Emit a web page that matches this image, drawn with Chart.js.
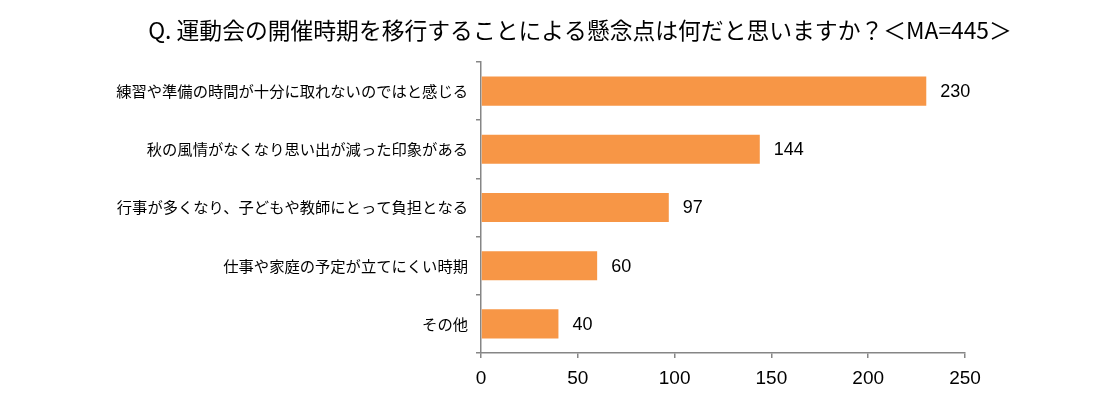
<!DOCTYPE html>
<html><head><meta charset="utf-8">
<script src="https://cdn.jsdelivr.net/npm/chart.js@4/dist/chart.umd.min.js"></script>
<style>html,body{margin:0;padding:0;background:#fff;}#wrap{width:1116px;height:397px;}</style>
</head><body><div id="wrap"><canvas id="c" width="1116" height="397"></canvas></div>
<script>
const titleText = "Q. 運動会の開催時期を移行することによる懸念点は何だと思いますか？＜MA=445＞";
const categories = ["練習や準備の時間が十分に取れないのではと感じる","秋の風情がなくなり思い出が減った印象がある","行事が多くなり、子どもや教師にとって負担となる","仕事や家庭の予定が立てにくい時期","その他"];
const values = [230,144,97,60,40];
const xTicks = [0,50,100,150,200,250];

const FONT = "'Noto Sans CJK JP','Noto Sans',sans-serif";
const labelPlugin = {
  id:'vals',
  afterDatasetsDraw(chart){
    const ctx = chart.ctx;
    const meta = chart.getDatasetMeta(0);
    ctx.save();
    ctx.font = "18px 'Liberation Sans', Arial, sans-serif";
    ctx.fillStyle = '#000';
    ctx.textBaseline = 'middle';
    ctx.textAlign = 'left';
    meta.data.forEach((bar,i)=>{ ctx.fillText(String(values[i]), bar.x + 14, bar.y + 1); });
    ctx.restore();
  }
};
const titlePlugin = {
  id:'ttl',
  afterDraw(chart){
    const ctx = chart.ctx;
    ctx.save();
    ctx.font = "22.8px " + FONT;
    ctx.fillStyle = '#000';
    ctx.textAlign = 'center';
    ctx.textBaseline = 'middle';
    ctx.fillText(titleText, 580, 30);
    ctx.restore();
  }
};
new Chart(document.getElementById('c'), {
  type:'bar',
  data:{labels:categories, datasets:[{data:values, backgroundColor:'#F79646', borderWidth:0, barPercentage:0.5, categoryPercentage:1}]},
  options:{
    indexAxis:'y', responsive:false, animation:false,
    layout:{padding:{top:62,right:151,left:0,bottom:0}},
    plugins:{legend:{display:false}, tooltip:{enabled:false}, title:{display:false}},
    scales:{
      x:{min:0,max:250, afterBuildTicks(s){s.ticks = xTicks.map(v=>({value:v}));},
        afterFit(s){s.height = 44;},
        border:{color:'#868686',width:1.5},
        grid:{drawOnChartArea:false, drawTicks:true, tickLength:5, color:'#868686', lineWidth:1.5},
        ticks:{color:'#000', font:{size:19, family:"'Liberation Sans', Arial, sans-serif"}, padding:9}},
      y:{afterFit(s){s.width = 481;},
        border:{color:'#868686',width:1.5},
        grid:{drawOnChartArea:false, drawTicks:true, tickLength:5, offset:true, color:'#868686', lineWidth:1.5},
        ticks:{color:'#000', font:{size:15.3, family:FONT}, padding:8}}
    }
  },
  plugins:[labelPlugin,titlePlugin]
});
</script></body></html>
